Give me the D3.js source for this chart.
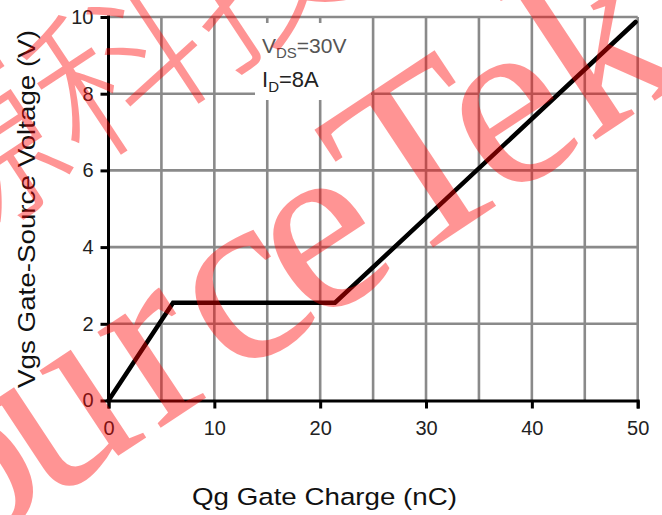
<!DOCTYPE html>
<html>
<head>
<meta charset="utf-8">
<script src="https://cdn.jsdelivr.net/npm/d3@7"></script>
<style>
  body { margin: 0; background: #fff; }
  svg { display: block; }
</style>
</head>
<body>
<script>
// gate charge curve (nC vs V)
var qg = [0, 6.1, 21.4, 49.8];
var vgs = [0, 2.55, 2.55, 9.87];

var xTicks = [0, 10, 20, 30, 40, 50];
var yTicks = [0, 2, 4, 6, 8, 10];
var xGrid = [5, 10, 15, 20, 25, 30, 35, 40, 45, 50];
var yGrid = [2, 4, 6, 8, 10];

var width = 662, height = 515;
var sans = "'Liberation Sans', Arial, sans-serif";

var svg = d3.select("body").append("svg")
    .attr("width", width)
    .attr("height", height)
    .style("font-family", sans);

var x = d3.scaleLinear().domain([0, 50]).range([108.5, 637.7]);
var y = d3.scaleLinear().domain([0, 10]).range([400.5, 17]);

// grid
svg.append("g").selectAll("line")
    .data(xGrid)
  .enter().append("line")
    .attr("x1", function(d) { return x(d); })
    .attr("x2", function(d) { return x(d); })
    .attr("y1", y(10))
    .attr("y2", y(0))
    .attr("stroke", "#8a8a8a")
    .attr("stroke-width", 2.6);

svg.append("g").selectAll("line")
    .data(yGrid)
  .enter().append("line")
    .attr("x1", x(0))
    .attr("x2", x(50))
    .attr("y1", function(d) { return y(d); })
    .attr("y2", function(d) { return y(d); })
    .attr("stroke", "#8a8a8a")
    .attr("stroke-width", 2.6);

// white box behind the conditions label
svg.append("rect")
    .attr("x", 255).attr("y", 23)
    .attr("width", 116).attr("height", 77)
    .attr("fill", "#fff");

var lab1 = svg.append("text").attr("x", 262).attr("y", 53)
    .attr("font-size", 21).attr("fill", "#555");
lab1.append("tspan").text("V");
lab1.append("tspan").attr("font-size", 15).attr("dy", 5).text("DS");
lab1.append("tspan").attr("dy", -5).text("=30V");

var lab2 = svg.append("text").attr("x", 262).attr("y", 87)
    .attr("font-size", 22).attr("fill", "#222");
lab2.append("tspan").text("I");
lab2.append("tspan").attr("font-size", 15).attr("dy", 5).text("D");
lab2.append("tspan").attr("dy", -5).text("=8A");

// axes
var xAxis = d3.axisBottom(x).tickValues(xTicks).tickSize(8).tickPadding(12)
    .tickFormat(d3.format("d"));
var yAxis = d3.axisLeft(y).tickValues(yTicks).tickSize(8).tickPadding(7)
    .tickFormat(d3.format("d"));

var gx = svg.append("g")
    .attr("transform", "translate(0," + y(0) + ")")
    .call(xAxis);
var gy = svg.append("g")
    .attr("transform", "translate(" + x(0) + ",0)")
    .call(yAxis);

[gx, gy].forEach(function(g) {
  g.attr("font-family", null).attr("font-size", 20);
  g.select(".domain").attr("stroke", "#000").attr("stroke-width", 3);
  g.selectAll(".tick line").attr("stroke", "#000").attr("stroke-width", 3);
  g.selectAll(".tick text").attr("fill", "#222");
});
gy.select(".domain").attr("d", "M0," + y(0) + "V" + (y(10) - 1.5));

// curve
var line = d3.line()
    .x(function(d) { return x(d[0]); })
    .y(function(d) { return y(d[1]); });

svg.append("path")
    .datum(qg.map(function(q, i) { return [q, vgs[i]]; }))
    .attr("d", line)
    .attr("fill", "none")
    .attr("stroke", "#000")
    .attr("stroke-width", 4.5)
    .attr("stroke-linejoin", "miter")
    .attr("stroke-linecap", "round");

// axis titles
svg.append("text")
    .attr("transform", "translate(35,209) rotate(-90)")
    .attr("text-anchor", "middle")
    .attr("font-size", 23)
    .attr("fill", "#111")
    .attr("textLength", 358)
    .attr("lengthAdjust", "spacingAndGlyphs")
    .text("Vgs Gate-Source Voltage (V)");

svg.append("text")
    .attr("x", 324.5).attr("y", 505)
    .attr("text-anchor", "middle")
    .attr("font-size", 24.5)
    .attr("fill", "#111")
    .attr("textLength", 265)
    .attr("lengthAdjust", "spacingAndGlyphs")
    .text("Qg Gate Charge (nC)");

// watermark
var wm = svg.append("g").attr("fill", "rgba(255,0,0,0.42)")
    .style("pointer-events", "none");
wm.append("text")
    .attr("transform", "translate(-148,632) rotate(-33.5)")
    .style("font-family", "'Liberation Serif', 'Times New Roman', serif")
    .attr("font-size", 250)
    .attr("letter-spacing", -16)
    .attr("dx", "0 0 0 24 24 0 12 0 12")
    .text("SourceTek");
wm.append("text")
    .attr("transform", "translate(-60,260) rotate(-33.5)")
    .style("font-family", "'Noto Sans CJK SC', sans-serif")
    .attr("font-weight", 300)
    .attr("font-size", 170)
    .text("源科技");
</script>
</body>
</html>
